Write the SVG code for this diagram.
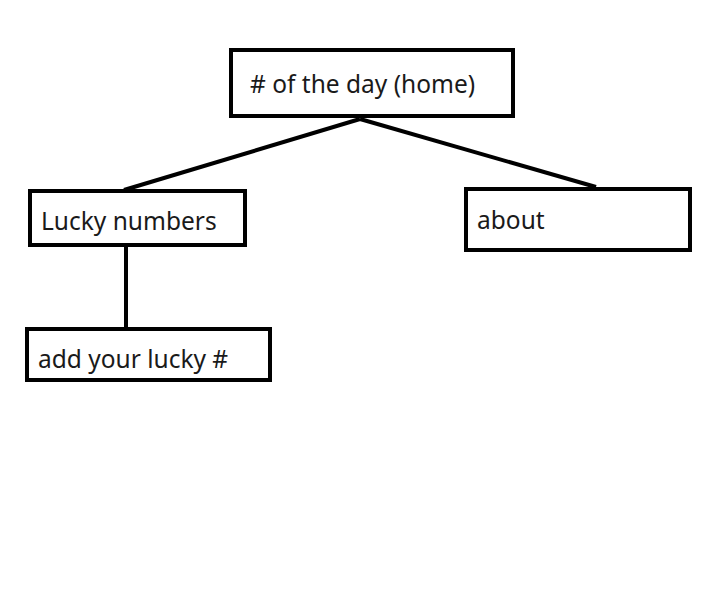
<svg xmlns="http://www.w3.org/2000/svg" width="710" height="599" viewBox="0 0 710 599">
<style>
.box{fill:#fff;stroke:#000;stroke-width:4}
.lbl{font-family:"Noto Sans","Open Sans",sans-serif;font-size:24.5px;fill:#1a1a1a}
.con{stroke:#000;stroke-width:4;fill:none}
</style>
<rect width="710" height="599" fill="#fff"/>
<g id="connectors">
<line class="con" x1="360" y1="119" x2="124" y2="190"/>
<line class="con" x1="360" y1="119" x2="596" y2="187"/>
<line class="con" x1="126" y1="247" x2="126" y2="330"/>
</g>
<g id="home">
<rect class="box" x="231" y="50" width="282" height="66"/>
<text class="lbl" x="250" y="93"># of the day (home)</text>
</g>
<g id="lucky">
<rect class="box" x="30" y="191" width="215" height="54"/>
<text class="lbl" x="41" y="230">Lucky numbers</text>
</g>
<g id="about">
<rect class="box" x="466" y="189" width="224" height="61"/>
<text class="lbl" x="477" y="229">about</text>
</g>
<g id="add">
<rect class="box" x="27" y="329" width="243" height="51"/>
<text class="lbl" x="38" y="368">add your lucky #</text>
</g>
</svg>
